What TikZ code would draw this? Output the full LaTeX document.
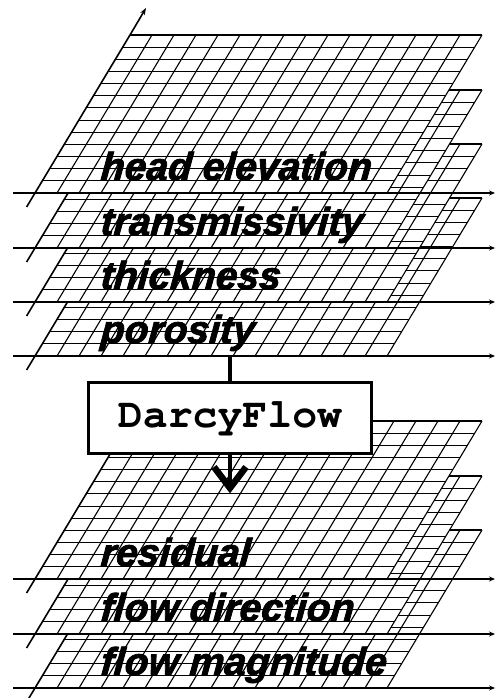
\documentclass[tikz,border=0pt]{standalone}
\usepackage[T1]{fontenc}
\usepackage{fontspec}
\setmainfont{Liberation Sans}
\newfontfamily\labfont{Liberation Sans}[BoldItalicFeatures={FakeSlant=0.08,FakeBold=2}]
\newcommand\courierbold{\fontencoding{T1}\fontfamily{pcr}\fontseries{b}\fontshape{n}\selectfont}
\usetikzlibrary{arrows.meta}

\tikzset{
  gridline/.style={line width=1.1pt},
  axisline/.style={line width=1.6pt},
  axisarrow/.style={axisline,-{Stealth[length=6pt,width=5pt]}},
  layerlabel/.style={anchor=base west, inner sep=0pt,
    font=\labfont\bfseries\itshape\fontsize{39}{39}\selectfont},
  procbox/.style={draw, line width=3pt, fill=white, minimum width=283pt,
    minimum height=71pt, inner sep=0pt,
    font=\courierbold\fontsize{41.5}{41.5}\selectfont},
  flowline/.style={line width=3.2pt},
  barbhead/.style={line width=6.5pt, miter limit=4},
}

% One gridded data layer: #1 = y of its bottom edge, #2 = label node name, #3 = label
\newcommand\gridlayer[3]{%
  \fill[white] (35,#1) -- (387,#1) -- (482,{#1-158}) -- (130,{#1-158}) -- cycle;
  \foreach \i in {1,...,16}
    \draw[gridline] ({35+22*\i},#1) -- ({130+22*\i},{#1-158});
  \foreach \j in {1,...,13}
    \draw[gridline] ({35+95*\j/13},{#1-158*\j/13}) -- ({387+95*\j/13},{#1-158*\j/13});
  \draw[axisline] (26.6,{#1+14}) -- (130,{#1-158});
  \draw[axisarrow] (13,#1) -- (495,#1);
  \node[layerlabel] (#2) at (100,{#1-13}) {#3};
}

\begin{document}
\begin{tikzpicture}[x=1pt,y=-1pt]
  \useasboundingbox[fill=white] (0,0) rectangle (495,698);

  % input layers, drawn back to front
  \gridlayer{356}{poro}{porosity}
  \gridlayer{302}{thick}{thickness}
  \gridlayer{248}{trans}{transmissivity}
  \gridlayer{193}{head}{head elevation}
  \coordinate (vaxis) at (146,8);
  \draw[axisline,-{Stealth[length=7pt,width=5pt]}] (130,35) -- (vaxis);

  % output layers, drawn back to front
  \gridlayer{688}{mag}{flow magnitude}
  \gridlayer{634}{dir}{flow direction}
  \gridlayer{579}{res}{residual}

  % the process box and its connectors
  \coordinate (inbase) at (230,356);
  \coordinate (outtip) at (230,488);
  \node[procbox] (darcy) at (230,417.5) {DarcyFlow};
  \draw[flowline] (inbase) -- (darcy.north);
  \draw[flowline] (darcy.south) -- (outtip);
  % heavy open barb at the end of the output connector
  \draw[barbhead] ([xshift=-16pt,yshift=21pt]outtip) -- (outtip)
                  -- ([xshift=16pt,yshift=21pt]outtip);
\end{tikzpicture}
\end{document}
